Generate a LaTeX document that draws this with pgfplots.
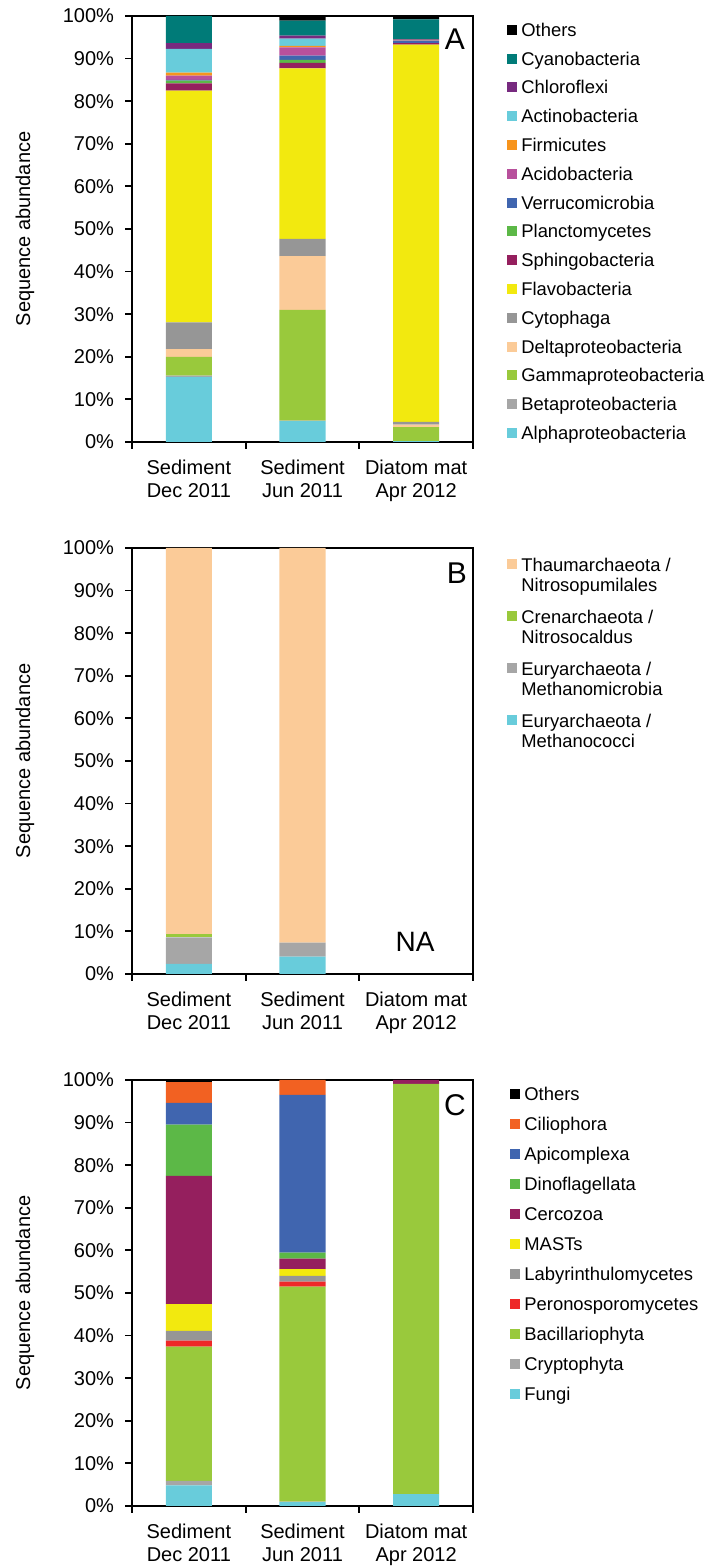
\documentclass[border=0pt]{standalone}
\usepackage{pgfplots}
\pgfplotsset{compat=1.18}
\usepackage{pgfplotstable}
\usepackage{fontspec}
\setmainfont{Liberation Sans}

\definecolor{cAlpha}{RGB}{104,204,219}
\definecolor{cBeta}{RGB}{166,166,166}
\definecolor{cGamma}{RGB}{153,201,60}
\definecolor{cDelta}{RGB}{251,203,152}
\definecolor{cCyto}{RGB}{150,150,150}
\definecolor{cFlavo}{RGB}{242,233,15}
\definecolor{cSphingo}{RGB}{149,31,94}
\definecolor{cPlancto}{RGB}{92,184,71}
\definecolor{cVerru}{RGB}{64,101,175}
\definecolor{cAcido}{RGB}{184,80,156}
\definecolor{cFirmi}{RGB}{247,148,29}
\definecolor{cChloro}{RGB}{119,42,127}
\definecolor{cCyano}{RGB}{0,123,120}
\definecolor{cRed}{RGB}{238,40,40}
\definecolor{cCilio}{RGB}{242,97,34}

\pgfplotstableread{
x Alpha Beta Gamma Delta Cyto Flavo Sphingo Plancto Verruco Acido Firmi Actino Chloro Cyano Others
0 15.3 0.3 4.4 1.8 6.3 54.4 1.7 0.6 0.2 1.0 0.7 5.6 1.3 6.4 0.0
1 4.9 0.1 26.0 12.6 4.1 40.0 1.3 0.7 1.0 1.9 0.4 1.7 0.7 3.5 1.1
2 0.2 0.0 3.3 0.6 0.6 88.6 0.3 0.0 0.6 0.1 0.1 0.0 0.1 4.7 0.8
}\dataA

\pgfplotstableread{
x Coc Mic Cal Pum
0 2.35 6.25 0.8 90.6
1 4.1 3.25 0.0 92.65
}\dataB

\pgfplotstableread{
x Fungi Crypto Bacil Perono Labyr MAST Cerco Dino Apico Cilio Others
0 4.85 1.05 31.5 1.4 2.3 6.3 30.1 12.0 5.1 4.9 0.5
1 0.9 0.1 50.5 1.15 1.35 1.6 2.45 1.45 37.0 3.5 0.0
2 2.8 0.0 96.3 0.0 0.0 0.0 0.9 0.0 0.0 0.0 0.0
}\dataC

\tikzset{letter/.style={font=\fontsize{15}{18}\selectfont}}

\pgfplotsset{
 panel/.style={
  scale only axis, width=170.5pt, height=213pt,
  anchor=south west,
  xmin=-0.5, xmax=2.5, ymin=0, ymax=100,
  ybar stacked, bar width=0.405,
  xtick={-0.5,0.5,1.5,2.5}, xticklabels={},
  extra x ticks={0,1,2},
  extra x tick labels={{Sediment\\Dec 2011},{Sediment\\Jun 2011},{Diatom mat\\Apr 2012}},
  extra x tick style={major tick length=0pt, grid=none},
  xticklabel style={align=center, font=\fontsize{10}{11.5}\selectfont, yshift=-5.5pt},
  ytick={0,10,...,100},
  yticklabel={\pgfmathprintnumber{\tick}\%},
  yticklabel style={font=\fontsize{10}{12}\selectfont, xshift=-2pt},
  /pgf/number format/assume math mode=true,
  tick pos=left,
  tick align=outside,
  major tick length=3.5pt,
  axis line style={line width=0.9pt},
  tick style={line width=0.9pt, black},
  ylabel={Sequence abundance},
  every axis y label/.style={at={(axis description cs:-0.314,0.5)}, rotate=90, anchor=center, font=\fontsize{10}{12}\selectfont},
  reverse legend,
  legend style={draw=none, fill=none, at={(1,1)}, anchor=north west, xshift=17pt, yshift=-3pt,
    inner sep=0pt, column sep=2pt, row sep=5.4pt, font=\fontsize{9.2}{10}\selectfont,
    cells={anchor=west}, nodes={inner sep=0pt}},
  legend image code/.code={\fill[##1] (0pt,-1.7pt) rectangle (5pt,3.3pt);},
 },
}

\begin{document}
\begin{tikzpicture}
\path[use as bounding box] (0,0) rectangle (354pt,783pt);

% Panel A
\begin{axis}[panel, at={(66pt,562pt)},
  legend style={nodes={text height=7pt, text depth=2pt}}]
\addplot[fill=cAlpha, draw=none] table[x=x,y=Alpha]{\dataA}; \addlegendentry{Alphaproteobacteria}
\addplot[fill=cBeta, draw=none] table[x=x,y=Beta]{\dataA}; \addlegendentry{Betaproteobacteria}
\addplot[fill=cGamma, draw=none] table[x=x,y=Gamma]{\dataA}; \addlegendentry{Gammaproteobacteria}
\addplot[fill=cDelta, draw=none] table[x=x,y=Delta]{\dataA}; \addlegendentry{Deltaproteobacteria}
\addplot[fill=cCyto, draw=none] table[x=x,y=Cyto]{\dataA}; \addlegendentry{Cytophaga}
\addplot[fill=cFlavo, draw=none] table[x=x,y=Flavo]{\dataA}; \addlegendentry{Flavobacteria}
\addplot[fill=cSphingo, draw=none] table[x=x,y=Sphingo]{\dataA}; \addlegendentry{Sphingobacteria}
\addplot[fill=cPlancto, draw=none] table[x=x,y=Plancto]{\dataA}; \addlegendentry{Planctomycetes}
\addplot[fill=cVerru, draw=none] table[x=x,y=Verruco]{\dataA}; \addlegendentry{Verrucomicrobia}
\addplot[fill=cAcido, draw=none] table[x=x,y=Acido]{\dataA}; \addlegendentry{Acidobacteria}
\addplot[fill=cFirmi, draw=none] table[x=x,y=Firmi]{\dataA}; \addlegendentry{Firmicutes}
\addplot[fill=cAlpha, draw=none] table[x=x,y=Actino]{\dataA}; \addlegendentry{Actinobacteria}
\addplot[fill=cChloro, draw=none] table[x=x,y=Chloro]{\dataA}; \addlegendentry{Chloroflexi}
\addplot[fill=cCyano, draw=none] table[x=x,y=Cyano]{\dataA}; \addlegendentry{Cyanobacteria}
\addplot[fill=black, draw=none] table[x=x,y=Others]{\dataA}; \addlegendentry{Others}
\node[letter] at (rel axis cs:0.947,0.946) {A};
\end{axis}

% Panel B
\begin{axis}[panel, at={(66pt,296pt)},
  legend style={yshift=-1.8pt, row sep=7.5pt, nodes={align=left}},
  legend image code/.code={\fill[#1] (0pt,3.8pt) rectangle (5pt,8.8pt);}]
\addplot[fill=cAlpha, draw=none] table[x=x,y=Coc]{\dataB}; \addlegendentry{\strut Euryarchaeota /\\Methanococci\strut}
\addplot[fill=cBeta, draw=none] table[x=x,y=Mic]{\dataB}; \addlegendentry{\strut Euryarchaeota /\\Methanomicrobia\strut}
\addplot[fill=cGamma, draw=none] table[x=x,y=Cal]{\dataB}; \addlegendentry{\strut Crenarchaeota /\\Nitrosocaldus\strut}
\addplot[fill=cDelta, draw=none] table[x=x,y=Pum]{\dataB}; \addlegendentry{\strut Thaumarchaeota /\\Nitrosopumilales\strut}
\node[letter] at (rel axis cs:0.953,0.941) {B};
\node[font=\fontsize{14}{17}\selectfont] at (rel axis cs:0.83,0.075) {NA};
\end{axis}

% Panel C
\begin{axis}[panel, at={(66pt,30pt)},
  legend style={xshift=1.5pt, row sep=6pt, nodes={text height=7pt, text depth=2pt}}]
\addplot[fill=cAlpha, draw=none] table[x=x,y=Fungi]{\dataC}; \addlegendentry{Fungi}
\addplot[fill=cBeta, draw=none] table[x=x,y=Crypto]{\dataC}; \addlegendentry{Cryptophyta}
\addplot[fill=cGamma, draw=none] table[x=x,y=Bacil]{\dataC}; \addlegendentry{Bacillariophyta}
\addplot[fill=cRed, draw=none] table[x=x,y=Perono]{\dataC}; \addlegendentry{Peronosporomycetes}
\addplot[fill=cCyto, draw=none] table[x=x,y=Labyr]{\dataC}; \addlegendentry{Labyrinthulomycetes}
\addplot[fill=cFlavo, draw=none] table[x=x,y=MAST]{\dataC}; \addlegendentry{MASTs}
\addplot[fill=cSphingo, draw=none] table[x=x,y=Cerco]{\dataC}; \addlegendentry{Cercozoa}
\addplot[fill=cPlancto, draw=none] table[x=x,y=Dino]{\dataC}; \addlegendentry{Dinoflagellata}
\addplot[fill=cVerru, draw=none] table[x=x,y=Apico]{\dataC}; \addlegendentry{Apicomplexa}
\addplot[fill=cCilio, draw=none] table[x=x,y=Cilio]{\dataC}; \addlegendentry{Ciliophora}
\addplot[fill=black, draw=none] table[x=x,y=Others]{\dataC}; \addlegendentry{Others}
\node[letter] at (rel axis cs:0.947,0.941) {C};
\end{axis}
\end{tikzpicture}
\end{document}
